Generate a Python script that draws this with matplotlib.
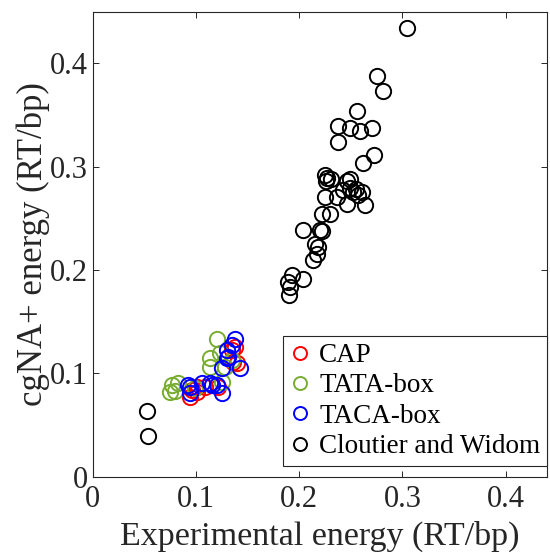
import matplotlib
matplotlib.use('Agg')
import matplotlib.pyplot as plt

# CAP
cap_x = [0.138, 0.1396, 0.096, 0.1009, 0.1089, 0.1218, 0.1347, 0.1363, 0.1009, 0.0944]
cap_y = [0.1257, 0.1097, 0.0839, 0.0822, 0.0871, 0.0871, 0.1225, 0.1112, 0.087, 0.0774]

# TATA-box
tata_x = [0.1202, 0.1137, 0.1234, 0.0767, 0.075, 0.0831, 0.0799, 0.1283, 0.1137, 0.1347, 0.0992, 0.125]
tata_y = [0.1333, 0.1145, 0.1193, 0.0887, 0.0822, 0.0903, 0.0829, 0.1064, 0.1064, 0.1128, 0.0858, 0.0919]

# TACA-box
taca_x = [0.138, 0.1299, 0.1315, 0.1251, 0.1428, 0.0927, 0.0944, 0.1057, 0.1154, 0.1202,
          0.1251, 0.1347, 0.1299, 0.0944, 0.1137]
taca_y = [0.1338, 0.1225, 0.116, 0.1048, 0.1048, 0.0887, 0.0807, 0.0903, 0.0887, 0.0887,
          0.0807, 0.1273, 0.1145, 0.087, 0.0903]

# Cloutier and Widom
cw_x = [0.3042, 0.2751, 0.2815, 0.2563, 0.2379, 0.2493, 0.259, 0.2703, 0.2379, 0.2728,
        0.2621, 0.2251, 0.227, 0.2309, 0.226, 0.2493, 0.2464, 0.2525, 0.2551, 0.2493,
        0.257, 0.2606, 0.2428, 0.2251, 0.2364, 0.2461, 0.2638, 0.2299, 0.2219, 0.2041,
        0.2202, 0.2219, 0.2154, 0.2186, 0.217, 0.2137, 0.1928, 0.2041, 0.1895, 0.1912,
        0.1902, 0.0525, 0.0534]
cw_y = [0.4339, 0.3875, 0.3737, 0.3544, 0.3392, 0.3377, 0.3344, 0.3373, 0.3238, 0.3109,
        0.3035, 0.2916, 0.2887, 0.2877, 0.2858, 0.2884, 0.2858, 0.2755, 0.278, 0.279,
        0.2723, 0.2755, 0.2771, 0.2706, 0.2706, 0.2643, 0.2626, 0.2546, 0.2546, 0.2385,
        0.2385, 0.2378, 0.2256, 0.2223, 0.2159, 0.2101, 0.195, 0.1918, 0.1885, 0.1834,
        0.1757, 0.0636, 0.0397]

plt.rcParams['font.family'] = ['Liberation Serif', 'DejaVu Serif']

fig = plt.figure(figsize=(5.5, 5.55), dpi=100)
ax = fig.add_axes([0.1682, 0.1409, 0.8264, 0.838])

ms = 11.0
mew = 1.4
ax.plot(cap_x, cap_y, 'o', ms=ms, mfc='none', mec='#ff0000', mew=mew, label='CAP')
ax.plot(tata_x, tata_y, 'o', ms=ms, mfc='none', mec='#77ac30', mew=mew, label='TATA-box')
ax.plot(taca_x, taca_y, 'o', ms=ms, mfc='none', mec='#0000ff', mew=mew, label='TACA-box')
ax.plot(cw_x, cw_y, 'o', ms=ms, mfc='none', mec='#000000', mew=mew, label='Cloutier and Widom')

ax.set_xlim(0, 0.44)
ax.set_ylim(0, 0.45)
ax.set_xticks([0, 0.1, 0.2, 0.3, 0.4])
ax.set_yticks([0, 0.1, 0.2, 0.3, 0.4])
ax.set_xticklabels(['0', '0.1', '0.2', '0.3', '0.4'])
ax.set_yticklabels(['0', '0.1', '0.2', '0.3', '0.4'])
ax.tick_params(direction='in', top=True, right=True, length=4, width=0.7,
               colors='#262626', labelsize=22, labelcolor='#262626')
ax.tick_params(axis='x', pad=6)
for s in ax.spines.values():
    s.set_linewidth(0.8)
    s.set_color('#262626')

ax.set_xlabel('Experimental energy (RT/bp)', fontsize=24.5, color='#262626', labelpad=5)
ax.set_ylabel('cgNA+ energy (RT/bp)', fontsize=25, color='#262626', labelpad=0)

leg = ax.legend(loc='lower right', bbox_to_anchor=(1.0, 0.023), borderaxespad=0,
                fontsize=19.5, frameon=True, fancybox=False, framealpha=1,
                edgecolor='#262626', handlelength=0.8, handletextpad=0.3,
                labelspacing=0.2, borderpad=0.25, markerscale=0.85)
leg.get_frame().set_linewidth(0.8)

fig.savefig('out.png', dpi=100)
